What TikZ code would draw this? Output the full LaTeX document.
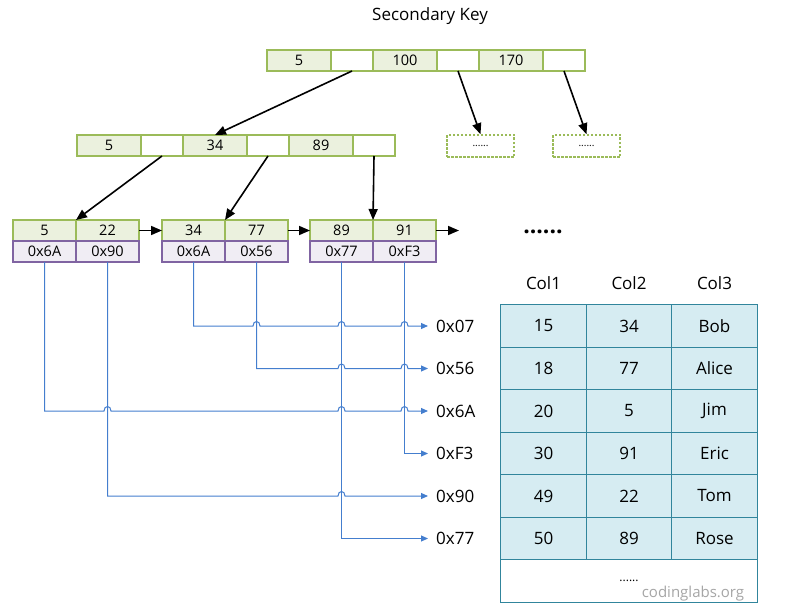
\documentclass[tikz,border=0pt]{standalone}
\usepackage{fontspec}
\setmainfont{Open Sans}
\usetikzlibrary{positioning,calc,arrows.meta}

\definecolor{keygreen}{HTML}{9BBB59}
\definecolor{keyfill}{HTML}{EBF1DE}
\definecolor{ptrpurple}{HTML}{8064A2}
\definecolor{ptrfill}{HTML}{F0EDF4}
\definecolor{tblborder}{HTML}{31859C}
\definecolor{tblfill}{HTML}{D6ECF2}
\definecolor{rowblue}{HTML}{447ECE}

\tikzset{
  cell/.style={draw, outer sep=0pt, inner sep=0pt, line width=1.3pt,
    minimum height=21pt, font=\fontsize{14.5}{16}\selectfont},
  keycell/.style={cell, draw=keygreen, fill=keyfill},
  gapcell/.style={cell, draw=keygreen, fill=white, minimum width=42pt},
  ptrcell/.style={cell, draw=ptrpurple, fill=ptrfill, minimum width=63pt},
  dotbox/.style={draw=keygreen, line width=1.5pt, dash pattern=on 2.5pt off 1.5pt,
    minimum width=67pt, minimum height=22pt, inner sep=0pt,
    font=\fontsize{10}{12}\selectfont},
  tree/.style={line width=1.6pt, -{Triangle[length=11pt,width=9pt]}},
  ptr/.style={rowblue, line width=1pt, -{Triangle[length=7pt,width=6pt]}},
  addr/.style={anchor=west, inner xsep=8pt, inner ysep=0pt, font=\fontsize{17}{19}\selectfont},
  tcell/.style={draw=tblborder, fill=tblfill, line width=1.3pt, outer sep=0pt,
    minimum width=85.5pt, minimum height=42.5pt, font=\fontsize{17}{19}\selectfont},
  colhead/.style={font=\fontsize{17}{19}\selectfont}
}

% horizontal line jumping over the vertical line of a pointer cell
\newcommand{\hop}[2]{-- ($(#1.south |- #2.west)+(-3.5,0)$)
  .. controls +(0,-6) and +(0,-6) .. ($(#1.south |- #2.west)+(3.5,0)$)}

\begin{document}
\begin{tikzpicture}[x=1pt, y=-1pt]
  \useasboundingbox (0,0) rectangle (808,615);

  \node[font=\fontsize{17}{20}\selectfont] (title) at (430,16) {Secondary Key};

  % root
  \node[keycell, minimum width=64pt] (r1) at (299,60.5) {5};
  \node[gapcell, right=0pt of r1] (r2) {};
  \node[keycell, minimum width=64pt, right=0pt of r2] (r3) {100};
  \node[gapcell, right=0pt of r3] (r4) {};
  \node[keycell, minimum width=64pt, right=0pt of r4] (r5) {170};
  \node[gapcell, right=0pt of r5] (r6) {};

  % second level
  \node[keycell, minimum width=64pt] (s1) at (109,145.5) {5};
  \node[gapcell, right=0pt of s1] (s2) {};
  \node[keycell, minimum width=64pt, right=0pt of s2] (s3) {34};
  \node[gapcell, right=0pt of s3] (s4) {};
  \node[keycell, minimum width=64pt, right=0pt of s4] (s5) {89};
  \node[gapcell, right=0pt of s5] (s6) {};

  \node[dotbox] (d1) at (480.5,146) {......};
  \node[dotbox] (d2) at (586.5,146) {......};

  % leaves
  \node[keycell, minimum width=63pt] (k1a) at (44.5,230.5) {5};
  \node[keycell, minimum width=63pt, right=0pt of k1a] (k1b) {22};
  \node[ptrcell, below=0pt of k1a] (p1a) {0x6A};
  \node[ptrcell, below=0pt of k1b] (p1b) {0x90};

  \node[keycell, minimum width=63pt] (k2a) at (193.5,230.5) {34};
  \node[keycell, minimum width=63pt, right=0pt of k2a] (k2b) {77};
  \node[ptrcell, below=0pt of k2a] (p2a) {0x6A};
  \node[ptrcell, below=0pt of k2b] (p2b) {0x56};

  \node[keycell, minimum width=63pt] (k3a) at (341.5,230.5) {89};
  \node[keycell, minimum width=63pt, right=0pt of k3a] (k3b) {91};
  \node[ptrcell, below=0pt of k3a] (p3a) {0x77};
  \node[ptrcell, below=0pt of k3b] (p3b) {0xF3};

  \coordinate (more) at (459,230.5);
  \node[font=\fontsize{23}{25}\selectfont\bfseries] (etc) at (543,232) {......};

  \draw[tree] (r2.south) -- (s3.north);
  \draw[tree] (r4.south) -- (d1.north);
  \draw[tree] (r6.south) -- (d2.north);
  \draw[tree] (s2.south) -- (k1a.north east);
  \draw[tree] (s4.south) -- (k2a.north east);
  \draw[tree] (s6.south) -- (k3a.north east);
  \draw[tree] (k1b.east) -- (k2a.west);
  \draw[tree] (k2b.east) -- (k3a.west);
  \draw[tree] (k3b.east) -- (more);

  % row addresses
  \node[addr] (a07) at (428,326) {0x07};
  \node[addr] (a56) at (428,368.5) {0x56};
  \node[addr] (a6A) at (428,411) {0x6A};
  \node[addr] (aF3) at (428,453.5) {0xF3};
  \node[addr] (a90) at (428,496) {0x90};
  \node[addr] (a77) at (428,538.5) {0x77};

  \draw[ptr] (p2a.south) -- (p2a.south |- a07.west) \hop{p2b}{a07} \hop{p3a}{a07} \hop{p3b}{a07} -- (a07.west);
  \draw[ptr] (p2b.south) -- (p2b.south |- a56.west) \hop{p3a}{a56} \hop{p3b}{a56} -- (a56.west);
  \draw[ptr] (p1a.south) -- (p1a.south |- a6A.west) \hop{p1b}{a6A} \hop{p3a}{a6A} \hop{p3b}{a6A} -- (a6A.west);
  \draw[ptr] (p3b.south) |- (aF3.west);
  \draw[ptr] (p1b.south) -- (p1b.south |- a90.west) \hop{p3a}{a90} -- (a90.west);
  \draw[ptr] (p3a.south) |- (a77.west);

  % table
  \node[colhead] (c1) at (543.5,283) {Col1};
  \node[colhead] (c2) at (629,283) {Col2};
  \node[colhead] (c3) at (714.5,283) {Col3};

  \node[tcell] (t1a) at (543.5,326) {15};
  \node[tcell, right=0pt of t1a] (t1b) {34};
  \node[tcell, right=0pt of t1b] (t1c) {Bob};
  \node[tcell, below=0pt of t1a] (t2a) {18};
  \node[tcell, right=0pt of t2a] (t2b) {77};
  \node[tcell, right=0pt of t2b] (t2c) {Alice};
  \node[tcell, below=0pt of t2a] (t3a) {20};
  \node[tcell, right=0pt of t3a] (t3b) {5};
  \node[tcell, right=0pt of t3b] (t3c) {Jim};
  \node[tcell, below=0pt of t3a] (t4a) {30};
  \node[tcell, right=0pt of t4a] (t4b) {91};
  \node[tcell, right=0pt of t4b] (t4c) {Eric};
  \node[tcell, below=0pt of t4a] (t5a) {49};
  \node[tcell, right=0pt of t5a] (t5b) {22};
  \node[tcell, right=0pt of t5b] (t5c) {Tom};
  \node[tcell, below=0pt of t5a] (t6a) {50};
  \node[tcell, right=0pt of t6a] (t6b) {89};
  \node[tcell, right=0pt of t6b] (t6c) {Rose};
  \node[tcell, fill=white, minimum width=256.5pt, anchor=north west,
    font=\fontsize{12}{14}\selectfont] (trest) at (t6a.south west) {......};

  \node[text=black!35, font=\fontsize{15}{17}\selectfont] (mark) at (693,594) {codinglabs.org};
\end{tikzpicture}
\end{document}
